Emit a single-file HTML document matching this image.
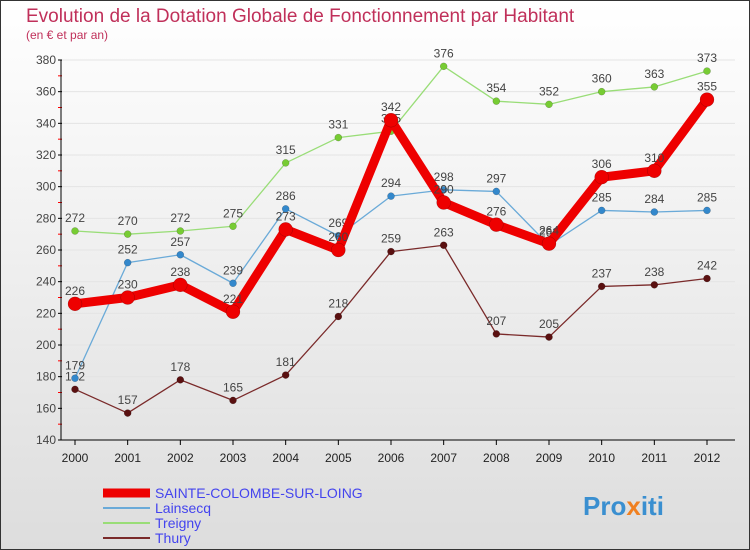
<!DOCTYPE html>
<html><head><meta charset="utf-8"><style>
body{margin:0;width:750px;height:550px;overflow:hidden}
#c{position:absolute;left:0;top:0;width:748px;height:548px;border:1px solid #333;background:linear-gradient(#fff,#ddd);}
text{font-family:"Liberation Sans",sans-serif}
</style></head><body>
<div id="c">
<svg id="s" width="750" height="550" style="position:absolute;left:-1px;top:-1px">
<text x="26" y="22" font-size="19" fill="#c0305a">Evolution de la Dotation Globale de Fonctionnement par Habitant</text>
<text x="26" y="39" font-size="12" fill="#c0305a">(en € et par an)</text>
<g id="grid"></g><g id="axes"></g><g id="series"></g><g id="legend"></g>
<text x="583" y="515" font-size="26" font-weight="bold" fill="#3a8fd0">Pro<tspan fill="#f08020">x</tspan><tspan fill="#3a8fd0">iti</tspan></text>
</svg></div>
<script>
const years=[2000,2001,2002,2003,2004,2005,2006,2007,2008,2009,2010,2011,2012];
const yTicks=[140,160,180,200,220,240,260,280,300,320,340,360,380];
const sainte=[226,230,238,221,273,260,342,290,276,264,306,310,355];
const lainsecq=[179,252,257,239,286,269,294,298,297,263,285,284,285];
const treigny=[272,270,272,275,315,331,335,376,354,352,360,363,373];
const thury=[172,157,178,165,181,218,259,263,207,205,237,238,242];
const NS="http://www.w3.org/2000/svg";
const X=i=>75+i*(707-75)/(years.length-1);
const Y=v=>440-(v-140)*(380/240);
function mk(t,a,p){const e=document.createElementNS(NS,t);for(const k in a)e.setAttribute(k,a[k]);document.getElementById(p).appendChild(e);return e;}
const grid='grid',axes='axes';
yTicks.forEach(v=>{
 const l=mk('line',{x1:61,x2:735,y1:Y(v),y2:Y(v),stroke:'#e4e4e4'},grid);
 
 
 const t=mk('text',{x:56,y:Y(v)+4,'font-size':12,fill:'#444','text-anchor':'end'},axes);
 t.textContent=v;
 
 
 mk('line',{x1:58,x2:62,y1:Y(v),y2:Y(v),stroke:'#000'},axes);
 if(v<380) mk('line',{x1:58,x2:62,y1:Y(v+10),y2:Y(v+10),stroke:'red'},axes);
});
mk('line',{x1:61,x2:61,y1:60,y2:440,stroke:'#000'},axes);
mk('line',{x1:61,x2:735,y1:440,y2:440,stroke:'#000'},axes);
years.forEach((y,i)=>{
 mk('line',{x1:X(i),x2:X(i),y1:440,y2:445,stroke:'#000'},axes);
 const t=mk('text',{x:X(i),y:462,'font-size':12,fill:'#222','text-anchor':'middle'},axes);
 t.textContent=y;
 
 
});
function series(data,color,dot,w,r,name){
 const p=mk('polyline',{points:data.map((v,i)=>X(i)+','+Y(v)).join(' '),fill:'none',stroke:color,'stroke-width':w,'stroke-linejoin':'round'},'series');
 
 
 data.forEach((v,i)=>{
  const c=mk('circle',{cx:X(i),cy:Y(v),r:r,fill:dot,stroke:'rgba(0,0,0,0.3)','stroke-width':0.5},'series');
  
  
  const t=mk('text',{x:X(i),y:Y(v)-9,'font-size':12,fill:'#444','text-anchor':'middle'},'series');
  t.textContent=v;
  
  
 });
}
series(thury,'#7a2a2a','#5a1010',1.3,3.5,'thury');
series(treigny,'#99dd77','#77cc33',1.3,3.5,'treigny');
series(lainsecq,'#6aaad8','#3388cc',1.3,3.5,'lainsecq');
series(sainte,'#ee0000','#ee0000',9,7,'sainte-colombe');
const leg=[['SAINTE-COLOMBE-SUR-LOING','#ee0000',9],['Lainsecq','#6aaad8',2],['Treigny','#99dd77',2],['Thury','#7a2a2a',2]];
leg.forEach((l,i)=>{
 const y=493+i*15;
 mk('line',{x1:103,x2:150,y1:y,y2:y,stroke:l[1],'stroke-width':l[2]},'legend');
 const t=mk('text',{x:155,y:y+5,'font-size':14,fill:'#4444ee'},'legend');
 t.textContent=l[0];
 
 
});
</script>
</body></html>
